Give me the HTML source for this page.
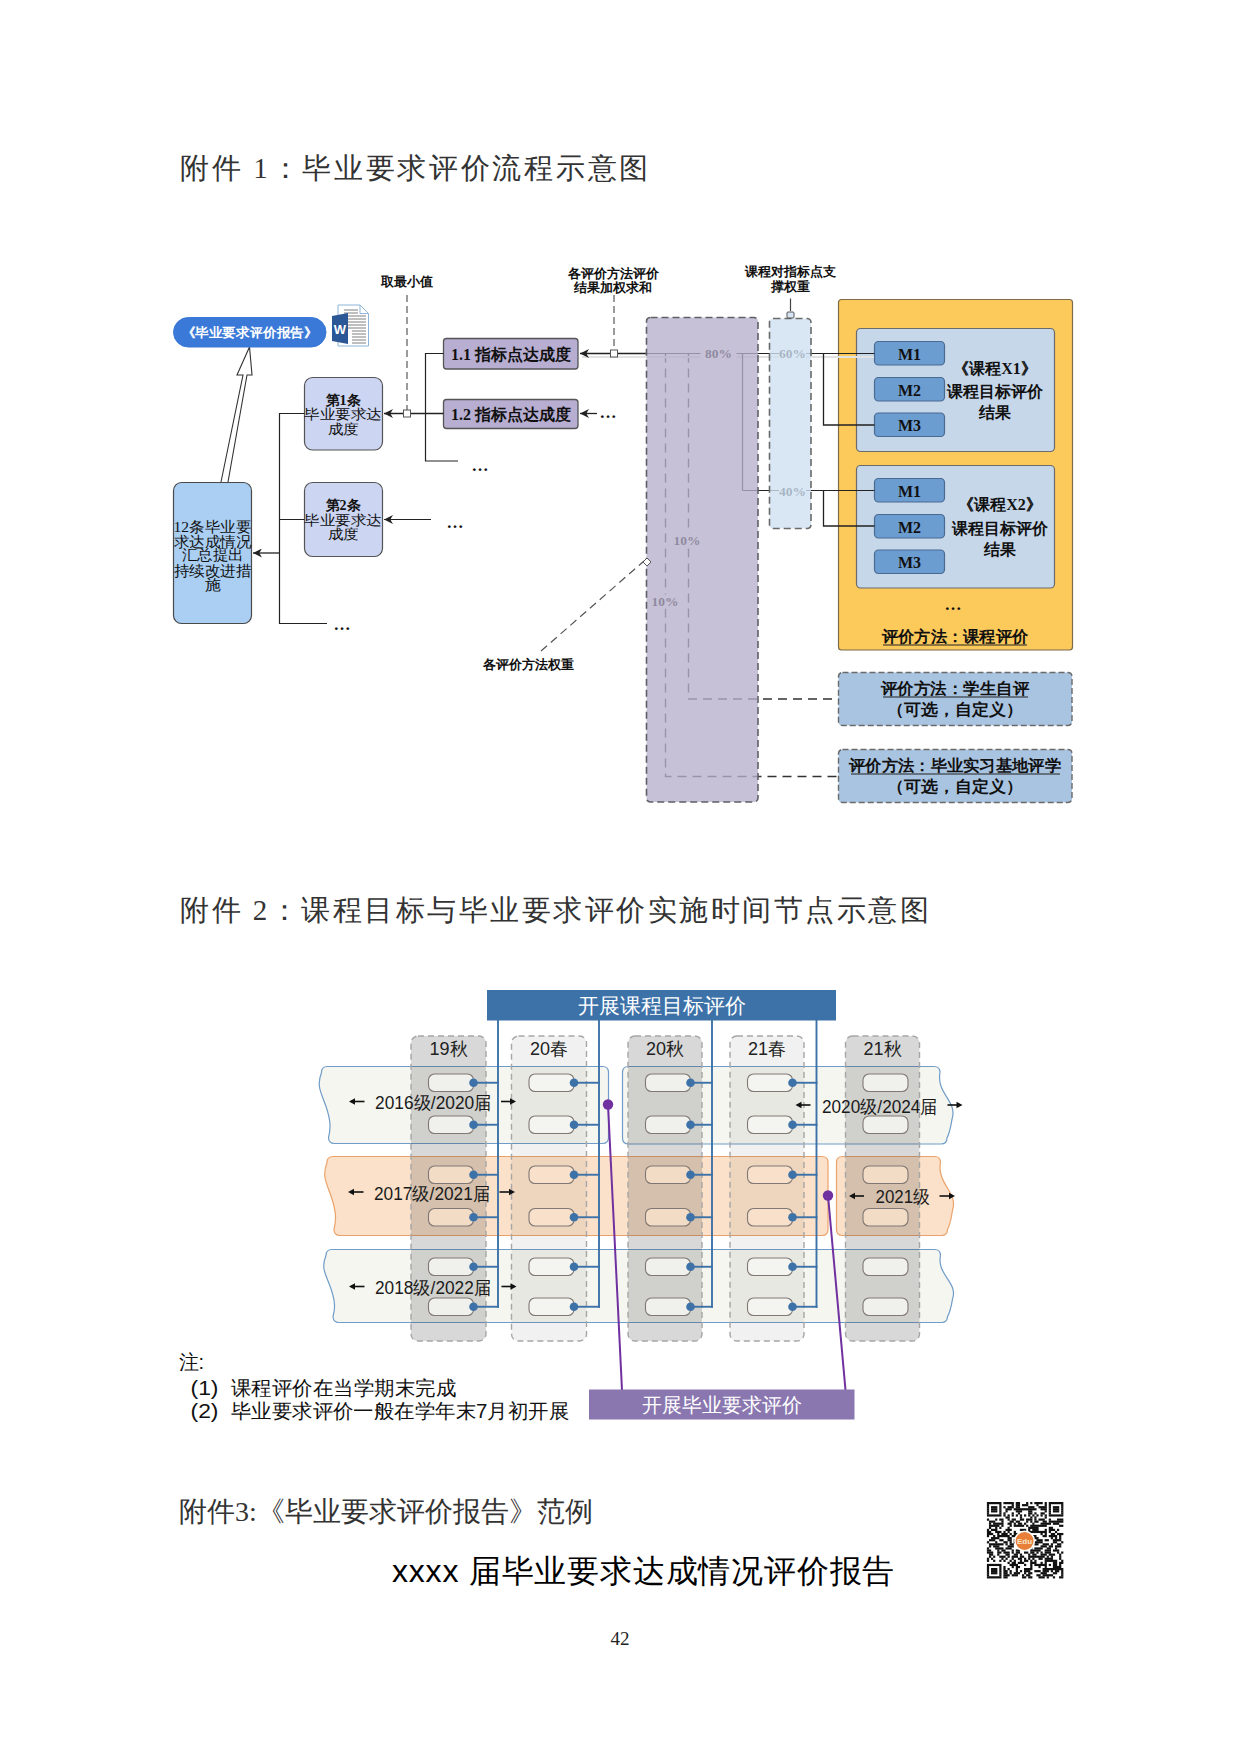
<!DOCTYPE html>
<html><head><meta charset="utf-8">
<style>
html,body{margin:0;padding:0;background:#fff;}
body{width:1240px;height:1753px;overflow:hidden;position:relative;font-family:"Liberation Serif",serif;}
svg{position:absolute;left:0;top:0;}
</style></head><body>
<svg width="1240" height="1753" viewBox="0 0 1240 1753" font-family="Liberation Serif, serif">
<defs>
<marker id="ah" viewBox="0 0 10 10" refX="10" refY="5" markerWidth="9" markerHeight="9" markerUnits="userSpaceOnUse" orient="auto"><path d="M0,0 L10,5 L0,10 L3,5 z" fill="#222"/></marker>
</defs>

<text x="180" y="178" font-size="29" letter-spacing="2.7" fill="#333">附件 1：毕业要求评价流程示意图</text>
<text x="180" y="920" font-size="29" letter-spacing="2.5" fill="#333">附件 2：课程目标与毕业要求评价实施时间节点示意图</text>
<text x="179" y="1521" font-size="28" fill="#333">附件3:《毕业要求评价报告》范例</text>
<text x="392" y="1582" font-size="32" letter-spacing="0.8" font-family="Liberation Sans, sans-serif" fill="#000">xxxx 届毕业要求达成情况评价报告</text>
<text x="620" y="1645" font-size="19" text-anchor="middle" fill="#222">42</text>
<rect x="838.5" y="299.5" width="234" height="350.5" rx="3" fill="#fcc95b" stroke="#7d6b4a" stroke-width="1.2" />
<rect x="856.5" y="328.5" width="198" height="123" rx="4" fill="#c6d7e9" stroke="#6b6b6b" stroke-width="1.2" />
<rect x="856.5" y="465.5" width="198" height="122.5" rx="4" fill="#c6d7e9" stroke="#6b6b6b" stroke-width="1.2" />
<rect x="874.5" y="341.5" width="70" height="23.5" rx="4" fill="#6c9dd1" stroke="#4a6a92" stroke-width="1.2" />
<rect x="874.5" y="377.5" width="70" height="23.5" rx="4" fill="#6c9dd1" stroke="#4a6a92" stroke-width="1.2" />
<rect x="874.5" y="413" width="70" height="23.5" rx="4" fill="#6c9dd1" stroke="#4a6a92" stroke-width="1.2" />
<rect x="874.5" y="478.5" width="70" height="23.5" rx="4" fill="#6c9dd1" stroke="#4a6a92" stroke-width="1.2" />
<rect x="874.5" y="514.5" width="70" height="23.5" rx="4" fill="#6c9dd1" stroke="#4a6a92" stroke-width="1.2" />
<rect x="874.5" y="550" width="70" height="23.5" rx="4" fill="#6c9dd1" stroke="#4a6a92" stroke-width="1.2" />
<text x="909.5" y="354.0" font-size="16" fill="#111" text-anchor="middle" dominant-baseline="central" font-weight="bold">M1</text>
<text x="909.5" y="390.0" font-size="16" fill="#111" text-anchor="middle" dominant-baseline="central" font-weight="bold">M2</text>
<text x="909.5" y="425.5" font-size="16" fill="#111" text-anchor="middle" dominant-baseline="central" font-weight="bold">M3</text>
<text x="909.5" y="491.0" font-size="16" fill="#111" text-anchor="middle" dominant-baseline="central" font-weight="bold">M1</text>
<text x="909.5" y="527.0" font-size="16" fill="#111" text-anchor="middle" dominant-baseline="central" font-weight="bold">M2</text>
<text x="909.5" y="562.5" font-size="16" fill="#111" text-anchor="middle" dominant-baseline="central" font-weight="bold">M3</text>
<text x="995" y="368" font-size="16" fill="#111" text-anchor="middle" dominant-baseline="central" font-weight="bold">《课程X1》</text>
<text x="995" y="391" font-size="16" fill="#111" text-anchor="middle" dominant-baseline="central" font-weight="bold">课程目标评价</text>
<text x="995" y="412" font-size="16" fill="#111" text-anchor="middle" dominant-baseline="central" font-weight="bold">结果</text>
<text x="1000" y="504" font-size="16" fill="#111" text-anchor="middle" dominant-baseline="central" font-weight="bold">《课程X2》</text>
<text x="1000" y="528" font-size="16" fill="#111" text-anchor="middle" dominant-baseline="central" font-weight="bold">课程目标评价</text>
<text x="1000" y="549" font-size="16" fill="#111" text-anchor="middle" dominant-baseline="central" font-weight="bold">结果</text>
<text x="953" y="604" font-size="17" fill="#111" text-anchor="middle" dominant-baseline="central" font-weight="bold">…</text>
<text x="955" y="636" font-size="16" fill="#111" text-anchor="middle" dominant-baseline="central" font-weight="bold" textLength="146" lengthAdjust="spacingAndGlyphs">评价方法：课程评价</text>
<line x1="883" y1="645" x2="1027" y2="645" stroke="#222" stroke-width="1.2" />
<rect x="838.5" y="672.5" width="233.5" height="53" rx="4" fill="#a8c4e1" stroke="#6a6a6a" stroke-width="1.4" stroke-dasharray="6,3"/>
<rect x="838.5" y="749.5" width="233.5" height="53" rx="4" fill="#a8c4e1" stroke="#6a6a6a" stroke-width="1.4" stroke-dasharray="6,3"/>
<text x="955" y="688" font-size="16" fill="#111" text-anchor="middle" dominant-baseline="central" font-weight="bold" textLength="148" lengthAdjust="spacingAndGlyphs">评价方法：学生自评</text>
<line x1="883" y1="697" x2="1028" y2="697" stroke="#222" stroke-width="1.2" />
<text x="955" y="709" font-size="16" fill="#111" text-anchor="middle" dominant-baseline="central" font-weight="bold" textLength="136" lengthAdjust="spacingAndGlyphs">（可选，自定义）</text>
<text x="955" y="765" font-size="16" fill="#111" text-anchor="middle" dominant-baseline="central" font-weight="bold" textLength="212" lengthAdjust="spacingAndGlyphs">评价方法：毕业实习基地评学</text>
<line x1="851" y1="774" x2="1060" y2="774" stroke="#222" stroke-width="1.2" />
<text x="955" y="786" font-size="16" fill="#111" text-anchor="middle" dominant-baseline="central" font-weight="bold" textLength="136" lengthAdjust="spacingAndGlyphs">（可选，自定义）</text>
<path d="M688.5,353.5 V699 H838.5" fill="none" stroke="#333" stroke-width="1.4" stroke-dasharray="9,6"/>
<path d="M665.5,353.5 V776.5 H838.5" fill="none" stroke="#333" stroke-width="1.4" stroke-dasharray="9,6"/>
<line x1="582" y1="357" x2="874" y2="357" stroke="#e2e2e2" stroke-width="2.2" />
<line x1="646" y1="353.5" x2="580" y2="353.5" stroke="#222" stroke-width="1.3" marker-end="url(#ah)"/>
<line x1="646" y1="353.5" x2="874.5" y2="353.5" stroke="#222" stroke-width="1.2" />
<line x1="742.5" y1="353.5" x2="742.5" y2="490.5" stroke="#222" stroke-width="1.2" />
<line x1="742.5" y1="490.5" x2="874.5" y2="490.5" stroke="#222" stroke-width="1.2" />
<path d="M823.5,353.5 V425 H874.5" fill="none" stroke="#222" stroke-width="1.3"/>
<path d="M823.5,490.5 V526 H874.5" fill="none" stroke="#222" stroke-width="1.3"/>
<rect x="700.5" y="346.5" width="36" height="14" fill="#fff"/>
<text x="718.5" y="353.5" font-size="13" fill="#000" text-anchor="middle" dominant-baseline="central" font-weight="bold" textLength="27" lengthAdjust="spacingAndGlyphs">80%</text>
<rect x="779.0" y="346.5" width="27" height="14" fill="#fff"/>
<text x="792.5" y="353.5" font-size="13" fill="#000" text-anchor="middle" dominant-baseline="central" font-weight="bold" textLength="27" lengthAdjust="spacingAndGlyphs">60%</text>
<rect x="779.0" y="484" width="27" height="14" fill="#fff"/>
<text x="792.5" y="491" font-size="13" fill="#000" text-anchor="middle" dominant-baseline="central" font-weight="bold" textLength="27" lengthAdjust="spacingAndGlyphs">40%</text>
<rect x="671.0" y="533.5" width="32" height="14" fill="#fff"/>
<text x="687" y="540.5" font-size="13" fill="#000" text-anchor="middle" dominant-baseline="central" font-weight="bold" textLength="27" lengthAdjust="spacingAndGlyphs">10%</text>
<rect x="649.0" y="594.5" width="32" height="14" fill="#fff"/>
<text x="665" y="601.5" font-size="13" fill="#000" text-anchor="middle" dominant-baseline="central" font-weight="bold" textLength="27" lengthAdjust="spacingAndGlyphs">10%</text>
<rect x="646.5" y="317.5" width="111.5" height="484.5" rx="4" fill="rgba(182,175,203,0.78)" stroke="none" stroke-width="0" />
<rect x="769.5" y="318.5" width="41.5" height="210" rx="4" fill="rgba(207,225,243,0.8)" stroke="none" stroke-width="0" />
<rect x="646.5" y="317.5" width="111.5" height="484.5" rx="4" fill="none" stroke="#5f5f66" stroke-width="1.6" stroke-dasharray="7,4"/>
<rect x="769.5" y="318.5" width="41.5" height="210" rx="4" fill="none" stroke="#6a6a6a" stroke-width="1.6" stroke-dasharray="7,4"/>
<text x="790" y="271" font-size="13" fill="#111" text-anchor="middle" dominant-baseline="central" font-weight="bold">课程对指标点支</text>
<text x="790" y="286" font-size="13" fill="#111" text-anchor="middle" dominant-baseline="central" font-weight="bold">撑权重</text>
<line x1="790.5" y1="298.5" x2="790.5" y2="311" stroke="#444" stroke-width="1.2" />
<rect x="787" y="312" width="7" height="6" rx="1" fill="#d6e6f6" stroke="#555" stroke-width="1" />
<text x="613" y="273" font-size="13" fill="#111" text-anchor="middle" dominant-baseline="central" font-weight="bold">各评价方法评价</text>
<text x="613" y="287" font-size="13" fill="#111" text-anchor="middle" dominant-baseline="central" font-weight="bold">结果加权求和</text>
<line x1="614" y1="295" x2="614" y2="350" stroke="#666" stroke-width="1.3" stroke-dasharray="7,4"/>
<rect x="610.5" y="350" width="7" height="7" rx="0" fill="#fff" stroke="#555" stroke-width="1" />
<rect x="443.5" y="338.5" width="134.5" height="30.5" rx="3" fill="#b8aed2" stroke="#555" stroke-width="1.3" />
<rect x="443.5" y="399.5" width="134.5" height="29" rx="3" fill="#b8aed2" stroke="#555" stroke-width="1.3" />
<text x="511" y="354" font-size="16" fill="#111" text-anchor="middle" dominant-baseline="central" font-weight="bold">1.1 指标点达成度</text>
<text x="511" y="414.5" font-size="16" fill="#111" text-anchor="middle" dominant-baseline="central" font-weight="bold">1.2 指标点达成度</text>
<line x1="597" y1="413.5" x2="580" y2="413.5" stroke="#222" stroke-width="1.3" marker-end="url(#ah)"/>
<text x="608" y="412" font-size="17" fill="#111" text-anchor="middle" dominant-baseline="central" font-weight="bold">…</text>
<path d="M443.5,353.5 H425.5 V461 H458" fill="none" stroke="#222" stroke-width="1.2"/>
<text x="480" y="465" font-size="17" fill="#111" text-anchor="middle" dominant-baseline="central" font-weight="bold">…</text>
<text x="407" y="281" font-size="13" fill="#111" text-anchor="middle" dominant-baseline="central" font-weight="bold">取最小值</text>
<line x1="407" y1="295" x2="407" y2="410" stroke="#666" stroke-width="1.3" stroke-dasharray="7,4"/>
<line x1="443.5" y1="413.5" x2="384" y2="413.5" stroke="#222" stroke-width="1.3" marker-end="url(#ah)"/>
<rect x="403.5" y="410" width="7" height="7" rx="0" fill="#fff" stroke="#555" stroke-width="1" />
<rect x="304.5" y="377.5" width="78" height="72.5" rx="8" fill="#ccd5f1" stroke="#555" stroke-width="1.2" />
<rect x="304.5" y="482.5" width="78" height="74" rx="8" fill="#ccd5f1" stroke="#555" stroke-width="1.2" />
<text x="343" y="400" font-size="14" fill="#111" text-anchor="middle" dominant-baseline="central" font-weight="bold">第1条</text>
<text x="343" y="414.5" font-size="14" fill="#111" text-anchor="middle" dominant-baseline="central"  textLength="78" lengthAdjust="spacingAndGlyphs">毕业要求达</text>
<text x="343" y="429.5" font-size="14" fill="#111" text-anchor="middle" dominant-baseline="central"  textLength="31" lengthAdjust="spacingAndGlyphs">成度</text>
<text x="343" y="505.5" font-size="14" fill="#111" text-anchor="middle" dominant-baseline="central" font-weight="bold">第2条</text>
<text x="343" y="520" font-size="14" fill="#111" text-anchor="middle" dominant-baseline="central"  textLength="78" lengthAdjust="spacingAndGlyphs">毕业要求达</text>
<text x="343" y="534.5" font-size="14" fill="#111" text-anchor="middle" dominant-baseline="central"  textLength="31" lengthAdjust="spacingAndGlyphs">成度</text>
<line x1="431" y1="519.5" x2="384" y2="519.5" stroke="#222" stroke-width="1.2" marker-end="url(#ah)"/>
<text x="455" y="522" font-size="17" fill="#111" text-anchor="middle" dominant-baseline="central" font-weight="bold">…</text>
<path d="M304.5,413.5 H279.5 V623.5 H327 M279.5,519.5 H304.5" fill="none" stroke="#222" stroke-width="1.2"/>
<line x1="279.5" y1="553" x2="253" y2="553" stroke="#222" stroke-width="1.3" marker-end="url(#ah)"/>
<text x="342" y="624" font-size="17" fill="#111" text-anchor="middle" dominant-baseline="central" font-weight="bold">…</text>
<rect x="173.5" y="482.5" width="78" height="141" rx="8" fill="#aacff3" stroke="#4a4a4a" stroke-width="1.2" />
<text x="212.5" y="527" font-size="15" fill="#111" text-anchor="middle" dominant-baseline="central"  textLength="78" lengthAdjust="spacingAndGlyphs">12条毕业要</text>
<text x="212.5" y="541.5" font-size="15" fill="#111" text-anchor="middle" dominant-baseline="central"  textLength="78" lengthAdjust="spacingAndGlyphs">求达成情况</text>
<text x="212.5" y="555" font-size="15" fill="#111" text-anchor="middle" dominant-baseline="central"  textLength="62" lengthAdjust="spacingAndGlyphs">汇总提出</text>
<text x="212.5" y="570.5" font-size="15" fill="#111" text-anchor="middle" dominant-baseline="central"  textLength="78" lengthAdjust="spacingAndGlyphs">持续改进措</text>
<text x="212.5" y="585" font-size="15" fill="#111" text-anchor="middle" dominant-baseline="central"  textLength="16" lengthAdjust="spacingAndGlyphs">施</text>
<path d="M221,482 L243,375 L237,375 L249.5,347 L252,375 L247,375 L228,482" fill="#fff" stroke="#333" stroke-width="1.1"/>
<rect x="173.5" y="317.5" width="152.5" height="29.5" rx="14.75" fill="#3a79d8" stroke="#3a79d8" stroke-width="1" />
<text x="249.5" y="332.5" font-size="13" fill="#fff" text-anchor="middle" dominant-baseline="central" font-weight="bold" textLength="136" lengthAdjust="spacingAndGlyphs">《毕业要求评价报告》</text>
<path d="M338,305 H360 L368.5,313.5 V346 H338 Z" fill="#fff" stroke="#8fb5d9" stroke-width="1"/>
<path d="M360,305 V313.5 H368.5" fill="none" stroke="#8fb5d9" stroke-width="1"/>
<line x1="344" y1="310" x2="358" y2="310" stroke="#7f7f7f" stroke-width="1"/>
<line x1="344" y1="313" x2="358" y2="313" stroke="#7f7f7f" stroke-width="1"/>
<line x1="344" y1="316" x2="366" y2="316" stroke="#7f7f7f" stroke-width="1"/>
<line x1="344" y1="319" x2="366" y2="319" stroke="#7f7f7f" stroke-width="1"/>
<line x1="344" y1="322" x2="366" y2="322" stroke="#7f7f7f" stroke-width="1"/>
<line x1="344" y1="325" x2="366" y2="325" stroke="#7f7f7f" stroke-width="1"/>
<line x1="344" y1="328" x2="366" y2="328" stroke="#7f7f7f" stroke-width="1"/>
<line x1="352" y1="331" x2="366" y2="331" stroke="#7f7f7f" stroke-width="1"/>
<line x1="352" y1="334" x2="366" y2="334" stroke="#7f7f7f" stroke-width="1"/>
<line x1="352" y1="337" x2="366" y2="337" stroke="#7f7f7f" stroke-width="1"/>
<line x1="352" y1="340" x2="366" y2="340" stroke="#7f7f7f" stroke-width="1"/>
<line x1="352" y1="343" x2="366" y2="343" stroke="#7f7f7f" stroke-width="1"/>
<path d="M332,316 L348,313 V344 L332,341 Z" fill="#2b5797"/>
<text x="340" y="329" font-size="13" fill="#fff" text-anchor="middle" dominant-baseline="central" font-family="Liberation Sans, sans-serif" font-weight="bold">W</text>
<line x1="541" y1="651" x2="644" y2="561" stroke="#555" stroke-width="1.2" stroke-dasharray="8,5"/>
<path d="M647,558 L651,562 L647,566 L643,562 Z" fill="#fff" stroke="#555" stroke-width="1"/>
<text x="528" y="664" font-size="13" fill="#111" text-anchor="middle" dominant-baseline="central" font-weight="bold">各评价方法权重</text>
<path d="M327.5,1066.5 H602.5 Q608.5,1066.5 608.5,1072.5 V1137.5 Q608.5,1143.5 602.5,1143.5 H334.5 Q328.5,1143.5 328.5,1137.5 C330.5,1129.64 331.5,1121.94 325.5,1105.0 C320.5,1091.14 316.5,1085.75 321.5,1072.5 Q321.5,1066.5 327.5,1066.5 Z" fill="#f6f6f0" stroke="#6f9cc8" stroke-width="1.2"/>
<path d="M628.5,1066.5 H934 Q940,1066.5 940,1072.5 C936,1093.625 958,1101.375 952,1119.2 C950,1132.375 947,1138 947,1138 Q947,1144 941,1144 H628.5 Q622.5,1144 622.5,1138 V1072.5 Q622.5,1066.5 628.5,1066.5 Z" fill="#f6f6f0" stroke="#6f9cc8" stroke-width="1.2"/>
<path d="M333,1156.5 H822 Q828,1156.5 828,1162.5 V1229.5 Q828,1235.5 822,1235.5 H340 Q334,1235.5 334,1229.5 C336,1221.28 337,1213.38 331,1196.0 C326,1181.78 322,1176.25 327,1162.5 Q327,1156.5 333,1156.5 Z" fill="#fbe1c9" stroke="#eba26a" stroke-width="1.2"/>
<path d="M842.5,1156.5 H934.5 Q940.5,1156.5 940.5,1162.5 C936.5,1184.15 958.5,1192.05 952.5,1210.22 C950.5,1223.65 947.5,1229.5 947.5,1229.5 Q947.5,1235.5 941.5,1235.5 H842.5 Q836.5,1235.5 836.5,1229.5 V1162.5 Q836.5,1156.5 842.5,1156.5 Z" fill="#fbe1c9" stroke="#eba26a" stroke-width="1.2"/>
<path d="M332,1249.5 H934.5 Q940.5,1249.5 940.5,1255.5 C936.5,1275.05 958.5,1282.35 952.5,1299.14 C950.5,1311.55 947.5,1316.5 947.5,1316.5 Q947.5,1322.5 941.5,1322.5 H339 Q333,1322.5 333,1316.5 C335,1309.36 336,1302.06 330,1286.0 C325,1272.86 321,1267.75 326,1255.5 Q326,1249.5 332,1249.5 Z" fill="#f6f6f0" stroke="#6f9cc8" stroke-width="1.2"/>
<rect x="411" y="1036" width="75" height="305" rx="7" fill="rgba(60,60,60,0.20)" stroke="#a6a6a6" stroke-width="1.4" stroke-dasharray="6,4"/>
<text x="448.5" y="1049" font-size="18" fill="#222" text-anchor="middle" dominant-baseline="central" font-family="Liberation Sans, sans-serif">19秋</text>
<rect x="511.5" y="1036" width="75" height="305" rx="7" fill="rgba(60,60,60,0.07)" stroke="#a6a6a6" stroke-width="1.4" stroke-dasharray="6,4"/>
<text x="549.0" y="1049" font-size="18" fill="#222" text-anchor="middle" dominant-baseline="central" font-family="Liberation Sans, sans-serif">20春</text>
<rect x="628" y="1036" width="74" height="305" rx="7" fill="rgba(60,60,60,0.20)" stroke="#a6a6a6" stroke-width="1.4" stroke-dasharray="6,4"/>
<text x="665.0" y="1049" font-size="18" fill="#222" text-anchor="middle" dominant-baseline="central" font-family="Liberation Sans, sans-serif">20秋</text>
<rect x="730" y="1036" width="74" height="305" rx="7" fill="rgba(60,60,60,0.07)" stroke="#a6a6a6" stroke-width="1.4" stroke-dasharray="6,4"/>
<text x="767.0" y="1049" font-size="18" fill="#222" text-anchor="middle" dominant-baseline="central" font-family="Liberation Sans, sans-serif">21春</text>
<rect x="845.5" y="1036" width="74" height="305" rx="7" fill="rgba(60,60,60,0.20)" stroke="#a6a6a6" stroke-width="1.4" stroke-dasharray="6,4"/>
<text x="882.5" y="1049" font-size="18" fill="#222" text-anchor="middle" dominant-baseline="central" font-family="Liberation Sans, sans-serif">21秋</text>
<rect x="487" y="990" width="349" height="30.5" fill="#3d72a8"/>
<text x="661.5" y="1005" font-size="20.5" fill="#fff" text-anchor="middle" dominant-baseline="central" font-family="Liberation Sans, sans-serif">开展课程目标评价</text>
<rect x="428.5" y="1074" width="45" height="17.5" rx="6" fill="rgba(246,246,242,0.85)" stroke="#807874" stroke-width="1.1"/>
<rect x="428.5" y="1116" width="45" height="17.5" rx="6" fill="rgba(246,246,242,0.85)" stroke="#807874" stroke-width="1.1"/>
<rect x="428.5" y="1166" width="45" height="17.5" rx="6" fill="rgba(250,226,205,0.8)" stroke="#807874" stroke-width="1.1"/>
<rect x="428.5" y="1208.5" width="45" height="17.5" rx="6" fill="rgba(250,226,205,0.8)" stroke="#807874" stroke-width="1.1"/>
<rect x="428.5" y="1258" width="45" height="17.5" rx="6" fill="rgba(246,246,242,0.85)" stroke="#807874" stroke-width="1.1"/>
<rect x="428.5" y="1298" width="45" height="17.5" rx="6" fill="rgba(246,246,242,0.85)" stroke="#807874" stroke-width="1.1"/>
<rect x="529.0" y="1074" width="45" height="17.5" rx="6" fill="rgba(246,246,242,0.85)" stroke="#807874" stroke-width="1.1"/>
<rect x="529.0" y="1116" width="45" height="17.5" rx="6" fill="rgba(246,246,242,0.85)" stroke="#807874" stroke-width="1.1"/>
<rect x="529.0" y="1166" width="45" height="17.5" rx="6" fill="rgba(250,226,205,0.8)" stroke="#807874" stroke-width="1.1"/>
<rect x="529.0" y="1208.5" width="45" height="17.5" rx="6" fill="rgba(250,226,205,0.8)" stroke="#807874" stroke-width="1.1"/>
<rect x="529.0" y="1258" width="45" height="17.5" rx="6" fill="rgba(246,246,242,0.85)" stroke="#807874" stroke-width="1.1"/>
<rect x="529.0" y="1298" width="45" height="17.5" rx="6" fill="rgba(246,246,242,0.85)" stroke="#807874" stroke-width="1.1"/>
<rect x="645.5" y="1074" width="45" height="17.5" rx="6" fill="rgba(246,246,242,0.85)" stroke="#807874" stroke-width="1.1"/>
<rect x="645.5" y="1116" width="45" height="17.5" rx="6" fill="rgba(246,246,242,0.85)" stroke="#807874" stroke-width="1.1"/>
<rect x="645.5" y="1166" width="45" height="17.5" rx="6" fill="rgba(250,226,205,0.8)" stroke="#807874" stroke-width="1.1"/>
<rect x="645.5" y="1208.5" width="45" height="17.5" rx="6" fill="rgba(250,226,205,0.8)" stroke="#807874" stroke-width="1.1"/>
<rect x="645.5" y="1258" width="45" height="17.5" rx="6" fill="rgba(246,246,242,0.85)" stroke="#807874" stroke-width="1.1"/>
<rect x="645.5" y="1298" width="45" height="17.5" rx="6" fill="rgba(246,246,242,0.85)" stroke="#807874" stroke-width="1.1"/>
<rect x="747.5" y="1074" width="45" height="17.5" rx="6" fill="rgba(246,246,242,0.85)" stroke="#807874" stroke-width="1.1"/>
<rect x="747.5" y="1116" width="45" height="17.5" rx="6" fill="rgba(246,246,242,0.85)" stroke="#807874" stroke-width="1.1"/>
<rect x="747.5" y="1166" width="45" height="17.5" rx="6" fill="rgba(250,226,205,0.8)" stroke="#807874" stroke-width="1.1"/>
<rect x="747.5" y="1208.5" width="45" height="17.5" rx="6" fill="rgba(250,226,205,0.8)" stroke="#807874" stroke-width="1.1"/>
<rect x="747.5" y="1258" width="45" height="17.5" rx="6" fill="rgba(246,246,242,0.85)" stroke="#807874" stroke-width="1.1"/>
<rect x="747.5" y="1298" width="45" height="17.5" rx="6" fill="rgba(246,246,242,0.85)" stroke="#807874" stroke-width="1.1"/>
<rect x="863.0" y="1074" width="45" height="17.5" rx="6" fill="rgba(246,246,242,0.85)" stroke="#807874" stroke-width="1.1"/>
<rect x="863.0" y="1116" width="45" height="17.5" rx="6" fill="rgba(246,246,242,0.85)" stroke="#807874" stroke-width="1.1"/>
<rect x="863.0" y="1166" width="45" height="17.5" rx="6" fill="rgba(250,226,205,0.8)" stroke="#807874" stroke-width="1.1"/>
<rect x="863.0" y="1208.5" width="45" height="17.5" rx="6" fill="rgba(250,226,205,0.8)" stroke="#807874" stroke-width="1.1"/>
<rect x="863.0" y="1258" width="45" height="17.5" rx="6" fill="rgba(246,246,242,0.85)" stroke="#807874" stroke-width="1.1"/>
<rect x="863.0" y="1298" width="45" height="17.5" rx="6" fill="rgba(246,246,242,0.85)" stroke="#807874" stroke-width="1.1"/>
<line x1="498" y1="1020" x2="498" y2="1307.75" stroke="#3d72a8" stroke-width="1.9"/>
<line x1="473.5" y1="1082.75" x2="499" y2="1082.75" stroke="#3d72a8" stroke-width="1.9"/>
<circle cx="473.5" cy="1082.75" r="4.3" fill="#3d72a8"/>
<line x1="473.5" y1="1124.75" x2="499" y2="1124.75" stroke="#3d72a8" stroke-width="1.9"/>
<circle cx="473.5" cy="1124.75" r="4.3" fill="#3d72a8"/>
<line x1="473.5" y1="1174.75" x2="499" y2="1174.75" stroke="#3d72a8" stroke-width="1.9"/>
<circle cx="473.5" cy="1174.75" r="4.3" fill="#3d72a8"/>
<line x1="473.5" y1="1217.25" x2="499" y2="1217.25" stroke="#3d72a8" stroke-width="1.9"/>
<circle cx="473.5" cy="1217.25" r="4.3" fill="#3d72a8"/>
<line x1="473.5" y1="1266.75" x2="499" y2="1266.75" stroke="#3d72a8" stroke-width="1.9"/>
<circle cx="473.5" cy="1266.75" r="4.3" fill="#3d72a8"/>
<line x1="473.5" y1="1306.75" x2="499" y2="1306.75" stroke="#3d72a8" stroke-width="1.9"/>
<circle cx="473.5" cy="1306.75" r="4.3" fill="#3d72a8"/>
<line x1="599" y1="1020" x2="599" y2="1307.75" stroke="#3d72a8" stroke-width="1.9"/>
<line x1="574.0" y1="1082.75" x2="600" y2="1082.75" stroke="#3d72a8" stroke-width="1.9"/>
<circle cx="574.0" cy="1082.75" r="4.3" fill="#3d72a8"/>
<line x1="574.0" y1="1124.75" x2="600" y2="1124.75" stroke="#3d72a8" stroke-width="1.9"/>
<circle cx="574.0" cy="1124.75" r="4.3" fill="#3d72a8"/>
<line x1="574.0" y1="1174.75" x2="600" y2="1174.75" stroke="#3d72a8" stroke-width="1.9"/>
<circle cx="574.0" cy="1174.75" r="4.3" fill="#3d72a8"/>
<line x1="574.0" y1="1217.25" x2="600" y2="1217.25" stroke="#3d72a8" stroke-width="1.9"/>
<circle cx="574.0" cy="1217.25" r="4.3" fill="#3d72a8"/>
<line x1="574.0" y1="1266.75" x2="600" y2="1266.75" stroke="#3d72a8" stroke-width="1.9"/>
<circle cx="574.0" cy="1266.75" r="4.3" fill="#3d72a8"/>
<line x1="574.0" y1="1306.75" x2="600" y2="1306.75" stroke="#3d72a8" stroke-width="1.9"/>
<circle cx="574.0" cy="1306.75" r="4.3" fill="#3d72a8"/>
<line x1="712" y1="1020" x2="712" y2="1307.75" stroke="#3d72a8" stroke-width="1.9"/>
<line x1="690.5" y1="1082.75" x2="713" y2="1082.75" stroke="#3d72a8" stroke-width="1.9"/>
<circle cx="690.5" cy="1082.75" r="4.3" fill="#3d72a8"/>
<line x1="690.5" y1="1124.75" x2="713" y2="1124.75" stroke="#3d72a8" stroke-width="1.9"/>
<circle cx="690.5" cy="1124.75" r="4.3" fill="#3d72a8"/>
<line x1="690.5" y1="1174.75" x2="713" y2="1174.75" stroke="#3d72a8" stroke-width="1.9"/>
<circle cx="690.5" cy="1174.75" r="4.3" fill="#3d72a8"/>
<line x1="690.5" y1="1217.25" x2="713" y2="1217.25" stroke="#3d72a8" stroke-width="1.9"/>
<circle cx="690.5" cy="1217.25" r="4.3" fill="#3d72a8"/>
<line x1="690.5" y1="1266.75" x2="713" y2="1266.75" stroke="#3d72a8" stroke-width="1.9"/>
<circle cx="690.5" cy="1266.75" r="4.3" fill="#3d72a8"/>
<line x1="690.5" y1="1306.75" x2="713" y2="1306.75" stroke="#3d72a8" stroke-width="1.9"/>
<circle cx="690.5" cy="1306.75" r="4.3" fill="#3d72a8"/>
<line x1="816.5" y1="1020" x2="816.5" y2="1307.75" stroke="#3d72a8" stroke-width="1.9"/>
<line x1="792.5" y1="1082.75" x2="817.5" y2="1082.75" stroke="#3d72a8" stroke-width="1.9"/>
<circle cx="792.5" cy="1082.75" r="4.3" fill="#3d72a8"/>
<line x1="792.5" y1="1124.75" x2="817.5" y2="1124.75" stroke="#3d72a8" stroke-width="1.9"/>
<circle cx="792.5" cy="1124.75" r="4.3" fill="#3d72a8"/>
<line x1="792.5" y1="1174.75" x2="817.5" y2="1174.75" stroke="#3d72a8" stroke-width="1.9"/>
<circle cx="792.5" cy="1174.75" r="4.3" fill="#3d72a8"/>
<line x1="792.5" y1="1217.25" x2="817.5" y2="1217.25" stroke="#3d72a8" stroke-width="1.9"/>
<circle cx="792.5" cy="1217.25" r="4.3" fill="#3d72a8"/>
<line x1="792.5" y1="1266.75" x2="817.5" y2="1266.75" stroke="#3d72a8" stroke-width="1.9"/>
<circle cx="792.5" cy="1266.75" r="4.3" fill="#3d72a8"/>
<line x1="792.5" y1="1306.75" x2="817.5" y2="1306.75" stroke="#3d72a8" stroke-width="1.9"/>
<circle cx="792.5" cy="1306.75" r="4.3" fill="#3d72a8"/>
<line x1="364.5" y1="1101.5" x2="351" y2="1101.5" stroke="#111" stroke-width="1.6"/>
<path d="M349,1101.5 L355,1098.3 L355,1104.7 Z" fill="#111"/>
<line x1="501" y1="1101.5" x2="514" y2="1101.5" stroke="#111" stroke-width="1.6"/>
<path d="M516,1101.5 L510,1098.3 L510,1104.7 Z" fill="#111"/>
<text x="375" y="1103" font-size="18" fill="#1a1a1a" dominant-baseline="central" font-family="Liberation Sans, sans-serif" textLength="116.5" lengthAdjust="spacingAndGlyphs">2016级/2020届</text>
<line x1="810.5" y1="1105" x2="797.5" y2="1105" stroke="#111" stroke-width="1.6"/>
<path d="M795.5,1105 L801.5,1101.8 L801.5,1108.2 Z" fill="#111"/>
<line x1="947.5" y1="1105" x2="960.5" y2="1105" stroke="#111" stroke-width="1.6"/>
<path d="M962.5,1105 L956.5,1101.8 L956.5,1108.2 Z" fill="#111"/>
<text x="822" y="1107" font-size="18" fill="#1a1a1a" dominant-baseline="central" font-family="Liberation Sans, sans-serif" textLength="115.5" lengthAdjust="spacingAndGlyphs">2020级/2024届</text>
<line x1="363.5" y1="1192" x2="350" y2="1192" stroke="#111" stroke-width="1.6"/>
<path d="M348,1192 L354,1188.8 L354,1195.2 Z" fill="#111"/>
<line x1="499.5" y1="1192" x2="513" y2="1192" stroke="#111" stroke-width="1.6"/>
<path d="M515,1192 L509,1188.8 L509,1195.2 Z" fill="#111"/>
<text x="374" y="1193.5" font-size="18" fill="#1a1a1a" dominant-baseline="central" font-family="Liberation Sans, sans-serif" textLength="116" lengthAdjust="spacingAndGlyphs">2017级/2021届</text>
<line x1="864" y1="1196" x2="851" y2="1196" stroke="#111" stroke-width="1.6"/>
<path d="M849,1196 L855,1192.8 L855,1199.2 Z" fill="#111"/>
<line x1="939.5" y1="1196" x2="953" y2="1196" stroke="#111" stroke-width="1.6"/>
<path d="M955,1196 L949,1192.8 L949,1199.2 Z" fill="#111"/>
<text x="875.5" y="1197" font-size="18" fill="#1a1a1a" dominant-baseline="central" font-family="Liberation Sans, sans-serif" textLength="54.5" lengthAdjust="spacingAndGlyphs">2021级</text>
<line x1="364.5" y1="1286.5" x2="351" y2="1286.5" stroke="#111" stroke-width="1.6"/>
<path d="M349,1286.5 L355,1283.3 L355,1289.7 Z" fill="#111"/>
<line x1="501.5" y1="1286.5" x2="514.5" y2="1286.5" stroke="#111" stroke-width="1.6"/>
<path d="M516.5,1286.5 L510.5,1283.3 L510.5,1289.7 Z" fill="#111"/>
<text x="375" y="1288" font-size="18" fill="#1a1a1a" dominant-baseline="central" font-family="Liberation Sans, sans-serif" textLength="116" lengthAdjust="spacingAndGlyphs">2018级/2022届</text>
<line x1="608" y1="1104.5" x2="622" y2="1390" stroke="#7030a0" stroke-width="2"/>
<circle cx="608" cy="1104.5" r="5.2" fill="#7030a0"/>
<line x1="828" y1="1195.5" x2="845.5" y2="1390" stroke="#7030a0" stroke-width="2"/>
<circle cx="828" cy="1195.5" r="5.2" fill="#7030a0"/>
<rect x="589" y="1389.5" width="265.5" height="30" fill="#8a77b0"/>
<text x="721.5" y="1404.5" font-size="19.5" fill="#fff" text-anchor="middle" dominant-baseline="central" font-family="Liberation Sans, sans-serif">开展毕业要求评价</text>
<text x="178.5" y="1362" font-size="20" fill="#111" dominant-baseline="central" font-family="Liberation Sans, sans-serif">注:</text>
<text x="190.5" y="1387" font-size="21" fill="#111" dominant-baseline="central" font-family="Liberation Sans, sans-serif" textLength="28" lengthAdjust="spacingAndGlyphs">(1)</text>
<text x="231" y="1387.5" font-size="20" fill="#111" dominant-baseline="central" font-family="Liberation Sans, sans-serif" textLength="225" lengthAdjust="spacingAndGlyphs">课程评价在当学期末完成</text>
<text x="190.5" y="1410" font-size="21" fill="#111" dominant-baseline="central" font-family="Liberation Sans, sans-serif" textLength="28" lengthAdjust="spacingAndGlyphs">(2)</text>
<text x="231" y="1410.5" font-size="20" fill="#111" dominant-baseline="central" font-family="Liberation Sans, sans-serif" textLength="338" lengthAdjust="spacingAndGlyphs">毕业要求评价一般在学年末7月初开展</text>
<g fill="#111">
<rect x="986.90" y="1502.00" width="14.59" height="2.21"/>
<rect x="1003.40" y="1502.00" width="10.46" height="2.21"/>
<rect x="1015.77" y="1502.00" width="4.27" height="2.21"/>
<rect x="1026.08" y="1502.00" width="2.21" height="2.21"/>
<rect x="1030.21" y="1502.00" width="2.21" height="2.21"/>
<rect x="1034.33" y="1502.00" width="8.40" height="2.21"/>
<rect x="1044.64" y="1502.00" width="2.21" height="2.21"/>
<rect x="1048.76" y="1502.00" width="14.59" height="2.21"/>
<rect x="986.90" y="1504.06" width="2.21" height="2.21"/>
<rect x="999.27" y="1504.06" width="2.21" height="2.21"/>
<rect x="1011.65" y="1504.06" width="2.21" height="2.21"/>
<rect x="1015.77" y="1504.06" width="4.27" height="2.21"/>
<rect x="1021.96" y="1504.06" width="6.34" height="2.21"/>
<rect x="1036.39" y="1504.06" width="2.21" height="2.21"/>
<rect x="1044.64" y="1504.06" width="2.21" height="2.21"/>
<rect x="1048.76" y="1504.06" width="2.21" height="2.21"/>
<rect x="1061.14" y="1504.06" width="2.21" height="2.21"/>
<rect x="986.90" y="1506.12" width="2.21" height="2.21"/>
<rect x="991.02" y="1506.12" width="6.34" height="2.21"/>
<rect x="999.27" y="1506.12" width="2.21" height="2.21"/>
<rect x="1003.40" y="1506.12" width="2.21" height="2.21"/>
<rect x="1007.52" y="1506.12" width="6.34" height="2.21"/>
<rect x="1015.77" y="1506.12" width="4.27" height="2.21"/>
<rect x="1028.14" y="1506.12" width="6.34" height="2.21"/>
<rect x="1038.45" y="1506.12" width="8.40" height="2.21"/>
<rect x="1048.76" y="1506.12" width="2.21" height="2.21"/>
<rect x="1052.89" y="1506.12" width="6.34" height="2.21"/>
<rect x="1061.14" y="1506.12" width="2.21" height="2.21"/>
<rect x="986.90" y="1508.19" width="2.21" height="2.21"/>
<rect x="991.02" y="1508.19" width="6.34" height="2.21"/>
<rect x="999.27" y="1508.19" width="2.21" height="2.21"/>
<rect x="1005.46" y="1508.19" width="6.34" height="2.21"/>
<rect x="1013.71" y="1508.19" width="22.83" height="2.21"/>
<rect x="1040.52" y="1508.19" width="6.34" height="2.21"/>
<rect x="1048.76" y="1508.19" width="2.21" height="2.21"/>
<rect x="1052.89" y="1508.19" width="6.34" height="2.21"/>
<rect x="1061.14" y="1508.19" width="2.21" height="2.21"/>
<rect x="986.90" y="1510.25" width="2.21" height="2.21"/>
<rect x="991.02" y="1510.25" width="6.34" height="2.21"/>
<rect x="999.27" y="1510.25" width="2.21" height="2.21"/>
<rect x="1005.46" y="1510.25" width="2.21" height="2.21"/>
<rect x="1015.77" y="1510.25" width="6.34" height="2.21"/>
<rect x="1028.14" y="1510.25" width="4.27" height="2.21"/>
<rect x="1044.64" y="1510.25" width="2.21" height="2.21"/>
<rect x="1048.76" y="1510.25" width="2.21" height="2.21"/>
<rect x="1052.89" y="1510.25" width="6.34" height="2.21"/>
<rect x="1061.14" y="1510.25" width="2.21" height="2.21"/>
<rect x="986.90" y="1512.31" width="2.21" height="2.21"/>
<rect x="999.27" y="1512.31" width="2.21" height="2.21"/>
<rect x="1003.40" y="1512.31" width="2.21" height="2.21"/>
<rect x="1011.65" y="1512.31" width="2.21" height="2.21"/>
<rect x="1017.83" y="1512.31" width="2.21" height="2.21"/>
<rect x="1028.14" y="1512.31" width="4.27" height="2.21"/>
<rect x="1034.33" y="1512.31" width="2.21" height="2.21"/>
<rect x="1040.52" y="1512.31" width="4.27" height="2.21"/>
<rect x="1048.76" y="1512.31" width="2.21" height="2.21"/>
<rect x="1061.14" y="1512.31" width="2.21" height="2.21"/>
<rect x="986.90" y="1514.37" width="14.59" height="2.21"/>
<rect x="1003.40" y="1514.37" width="2.21" height="2.21"/>
<rect x="1007.52" y="1514.37" width="2.21" height="2.21"/>
<rect x="1011.65" y="1514.37" width="2.21" height="2.21"/>
<rect x="1015.77" y="1514.37" width="2.21" height="2.21"/>
<rect x="1019.89" y="1514.37" width="2.21" height="2.21"/>
<rect x="1024.02" y="1514.37" width="2.21" height="2.21"/>
<rect x="1028.14" y="1514.37" width="2.21" height="2.21"/>
<rect x="1032.27" y="1514.37" width="2.21" height="2.21"/>
<rect x="1036.39" y="1514.37" width="2.21" height="2.21"/>
<rect x="1040.52" y="1514.37" width="2.21" height="2.21"/>
<rect x="1044.64" y="1514.37" width="2.21" height="2.21"/>
<rect x="1048.76" y="1514.37" width="14.59" height="2.21"/>
<rect x="1005.46" y="1516.44" width="4.27" height="2.21"/>
<rect x="1019.89" y="1516.44" width="2.21" height="2.21"/>
<rect x="1030.21" y="1516.44" width="2.21" height="2.21"/>
<rect x="1034.33" y="1516.44" width="2.21" height="2.21"/>
<rect x="1044.64" y="1516.44" width="2.21" height="2.21"/>
<rect x="986.90" y="1518.50" width="2.21" height="2.21"/>
<rect x="995.15" y="1518.50" width="2.21" height="2.21"/>
<rect x="999.27" y="1518.50" width="4.27" height="2.21"/>
<rect x="1007.52" y="1518.50" width="2.21" height="2.21"/>
<rect x="1011.65" y="1518.50" width="4.27" height="2.21"/>
<rect x="1019.89" y="1518.50" width="4.27" height="2.21"/>
<rect x="1026.08" y="1518.50" width="6.34" height="2.21"/>
<rect x="1034.33" y="1518.50" width="2.21" height="2.21"/>
<rect x="1038.45" y="1518.50" width="6.34" height="2.21"/>
<rect x="1048.76" y="1518.50" width="2.21" height="2.21"/>
<rect x="1057.01" y="1518.50" width="6.34" height="2.21"/>
<rect x="988.96" y="1520.56" width="6.34" height="2.21"/>
<rect x="1001.34" y="1520.56" width="2.21" height="2.21"/>
<rect x="1009.58" y="1520.56" width="4.27" height="2.21"/>
<rect x="1015.77" y="1520.56" width="4.27" height="2.21"/>
<rect x="1026.08" y="1520.56" width="2.21" height="2.21"/>
<rect x="1030.21" y="1520.56" width="2.21" height="2.21"/>
<rect x="1034.33" y="1520.56" width="4.27" height="2.21"/>
<rect x="1042.58" y="1520.56" width="4.27" height="2.21"/>
<rect x="1048.76" y="1520.56" width="14.59" height="2.21"/>
<rect x="988.96" y="1522.62" width="2.21" height="2.21"/>
<rect x="993.09" y="1522.62" width="10.46" height="2.21"/>
<rect x="1007.52" y="1522.62" width="4.27" height="2.21"/>
<rect x="1013.71" y="1522.62" width="2.21" height="2.21"/>
<rect x="1017.83" y="1522.62" width="4.27" height="2.21"/>
<rect x="1024.02" y="1522.62" width="2.21" height="2.21"/>
<rect x="1032.27" y="1522.62" width="2.21" height="2.21"/>
<rect x="1040.52" y="1522.62" width="10.46" height="2.21"/>
<rect x="1052.89" y="1522.62" width="6.34" height="2.21"/>
<rect x="988.96" y="1524.68" width="10.46" height="2.21"/>
<rect x="1001.34" y="1524.68" width="2.21" height="2.21"/>
<rect x="1009.58" y="1524.68" width="2.21" height="2.21"/>
<rect x="1013.71" y="1524.68" width="10.46" height="2.21"/>
<rect x="1026.08" y="1524.68" width="2.21" height="2.21"/>
<rect x="1030.21" y="1524.68" width="16.65" height="2.21"/>
<rect x="1059.08" y="1524.68" width="4.27" height="2.21"/>
<rect x="988.96" y="1526.75" width="2.21" height="2.21"/>
<rect x="995.15" y="1526.75" width="2.21" height="2.21"/>
<rect x="999.27" y="1526.75" width="2.21" height="2.21"/>
<rect x="1007.52" y="1526.75" width="2.21" height="2.21"/>
<rect x="1028.14" y="1526.75" width="10.46" height="2.21"/>
<rect x="1048.76" y="1526.75" width="4.27" height="2.21"/>
<rect x="986.90" y="1528.81" width="2.21" height="2.21"/>
<rect x="991.02" y="1528.81" width="6.34" height="2.21"/>
<rect x="1005.46" y="1528.81" width="6.34" height="2.21"/>
<rect x="1019.89" y="1528.81" width="6.34" height="2.21"/>
<rect x="1028.14" y="1528.81" width="2.21" height="2.21"/>
<rect x="1032.27" y="1528.81" width="6.34" height="2.21"/>
<rect x="1044.64" y="1528.81" width="2.21" height="2.21"/>
<rect x="1048.76" y="1528.81" width="6.34" height="2.21"/>
<rect x="1057.01" y="1528.81" width="2.21" height="2.21"/>
<rect x="986.90" y="1530.87" width="4.27" height="2.21"/>
<rect x="995.15" y="1530.87" width="6.34" height="2.21"/>
<rect x="1003.40" y="1530.87" width="2.21" height="2.21"/>
<rect x="1007.52" y="1530.87" width="2.21" height="2.21"/>
<rect x="1013.71" y="1530.87" width="2.21" height="2.21"/>
<rect x="1024.02" y="1530.87" width="2.21" height="2.21"/>
<rect x="1028.14" y="1530.87" width="18.71" height="2.21"/>
<rect x="1048.76" y="1530.87" width="2.21" height="2.21"/>
<rect x="1054.95" y="1530.87" width="2.21" height="2.21"/>
<rect x="986.90" y="1532.93" width="6.34" height="2.21"/>
<rect x="997.21" y="1532.93" width="2.21" height="2.21"/>
<rect x="1001.34" y="1532.93" width="6.34" height="2.21"/>
<rect x="1009.58" y="1532.93" width="2.21" height="2.21"/>
<rect x="1013.71" y="1532.93" width="4.27" height="2.21"/>
<rect x="1019.89" y="1532.93" width="4.27" height="2.21"/>
<rect x="1040.52" y="1532.93" width="2.21" height="2.21"/>
<rect x="1044.64" y="1532.93" width="2.21" height="2.21"/>
<rect x="1050.83" y="1532.93" width="4.27" height="2.21"/>
<rect x="1057.01" y="1532.93" width="6.34" height="2.21"/>
<rect x="986.90" y="1534.99" width="2.21" height="2.21"/>
<rect x="993.09" y="1534.99" width="2.21" height="2.21"/>
<rect x="997.21" y="1534.99" width="12.52" height="2.21"/>
<rect x="1011.65" y="1534.99" width="4.27" height="2.21"/>
<rect x="1019.89" y="1534.99" width="16.65" height="2.21"/>
<rect x="1042.58" y="1534.99" width="4.27" height="2.21"/>
<rect x="1048.76" y="1534.99" width="8.40" height="2.21"/>
<rect x="1059.08" y="1534.99" width="2.21" height="2.21"/>
<rect x="991.02" y="1537.06" width="8.40" height="2.21"/>
<rect x="1007.52" y="1537.06" width="4.27" height="2.21"/>
<rect x="1015.77" y="1537.06" width="2.21" height="2.21"/>
<rect x="1019.89" y="1537.06" width="4.27" height="2.21"/>
<rect x="1032.27" y="1537.06" width="6.34" height="2.21"/>
<rect x="1050.83" y="1537.06" width="2.21" height="2.21"/>
<rect x="1054.95" y="1537.06" width="2.21" height="2.21"/>
<rect x="1059.08" y="1537.06" width="2.21" height="2.21"/>
<rect x="988.96" y="1539.12" width="6.34" height="2.21"/>
<rect x="999.27" y="1539.12" width="4.27" height="2.21"/>
<rect x="1007.52" y="1539.12" width="4.27" height="2.21"/>
<rect x="1013.71" y="1539.12" width="6.34" height="2.21"/>
<rect x="1026.08" y="1539.12" width="6.34" height="2.21"/>
<rect x="1036.39" y="1539.12" width="6.34" height="2.21"/>
<rect x="1044.64" y="1539.12" width="4.27" height="2.21"/>
<rect x="1052.89" y="1539.12" width="8.40" height="2.21"/>
<rect x="986.90" y="1541.18" width="2.21" height="2.21"/>
<rect x="995.15" y="1541.18" width="2.21" height="2.21"/>
<rect x="1003.40" y="1541.18" width="4.27" height="2.21"/>
<rect x="1009.58" y="1541.18" width="2.21" height="2.21"/>
<rect x="1013.71" y="1541.18" width="8.40" height="2.21"/>
<rect x="1026.08" y="1541.18" width="6.34" height="2.21"/>
<rect x="1034.33" y="1541.18" width="8.40" height="2.21"/>
<rect x="1052.89" y="1541.18" width="4.27" height="2.21"/>
<rect x="1061.14" y="1541.18" width="2.21" height="2.21"/>
<rect x="988.96" y="1543.24" width="14.59" height="2.21"/>
<rect x="1005.46" y="1543.24" width="2.21" height="2.21"/>
<rect x="1009.58" y="1543.24" width="4.27" height="2.21"/>
<rect x="1017.83" y="1543.24" width="8.40" height="2.21"/>
<rect x="1028.14" y="1543.24" width="4.27" height="2.21"/>
<rect x="1034.33" y="1543.24" width="4.27" height="2.21"/>
<rect x="1042.58" y="1543.24" width="6.34" height="2.21"/>
<rect x="1050.83" y="1543.24" width="2.21" height="2.21"/>
<rect x="1057.01" y="1543.24" width="4.27" height="2.21"/>
<rect x="988.96" y="1545.31" width="2.21" height="2.21"/>
<rect x="993.09" y="1545.31" width="6.34" height="2.21"/>
<rect x="1007.52" y="1545.31" width="6.34" height="2.21"/>
<rect x="1017.83" y="1545.31" width="8.40" height="2.21"/>
<rect x="1028.14" y="1545.31" width="2.21" height="2.21"/>
<rect x="1040.52" y="1545.31" width="6.34" height="2.21"/>
<rect x="1048.76" y="1545.31" width="4.27" height="2.21"/>
<rect x="1054.95" y="1545.31" width="6.34" height="2.21"/>
<rect x="986.90" y="1547.37" width="2.21" height="2.21"/>
<rect x="995.15" y="1547.37" width="8.40" height="2.21"/>
<rect x="1005.46" y="1547.37" width="6.34" height="2.21"/>
<rect x="1021.96" y="1547.37" width="2.21" height="2.21"/>
<rect x="1026.08" y="1547.37" width="2.21" height="2.21"/>
<rect x="1030.21" y="1547.37" width="2.21" height="2.21"/>
<rect x="1034.33" y="1547.37" width="8.40" height="2.21"/>
<rect x="1046.70" y="1547.37" width="4.27" height="2.21"/>
<rect x="1054.95" y="1547.37" width="2.21" height="2.21"/>
<rect x="986.90" y="1549.43" width="4.27" height="2.21"/>
<rect x="997.21" y="1549.43" width="2.21" height="2.21"/>
<rect x="1001.34" y="1549.43" width="4.27" height="2.21"/>
<rect x="1011.65" y="1549.43" width="2.21" height="2.21"/>
<rect x="1015.77" y="1549.43" width="4.27" height="2.21"/>
<rect x="1024.02" y="1549.43" width="2.21" height="2.21"/>
<rect x="1030.21" y="1549.43" width="10.46" height="2.21"/>
<rect x="1044.64" y="1549.43" width="6.34" height="2.21"/>
<rect x="1052.89" y="1549.43" width="6.34" height="2.21"/>
<rect x="986.90" y="1551.49" width="6.34" height="2.21"/>
<rect x="997.21" y="1551.49" width="4.27" height="2.21"/>
<rect x="1003.40" y="1551.49" width="6.34" height="2.21"/>
<rect x="1011.65" y="1551.49" width="2.21" height="2.21"/>
<rect x="1015.77" y="1551.49" width="4.27" height="2.21"/>
<rect x="1024.02" y="1551.49" width="4.27" height="2.21"/>
<rect x="1030.21" y="1551.49" width="4.27" height="2.21"/>
<rect x="1036.39" y="1551.49" width="2.21" height="2.21"/>
<rect x="1040.52" y="1551.49" width="2.21" height="2.21"/>
<rect x="1044.64" y="1551.49" width="6.34" height="2.21"/>
<rect x="1057.01" y="1551.49" width="2.21" height="2.21"/>
<rect x="1061.14" y="1551.49" width="2.21" height="2.21"/>
<rect x="988.96" y="1553.55" width="4.27" height="2.21"/>
<rect x="997.21" y="1553.55" width="2.21" height="2.21"/>
<rect x="1005.46" y="1553.55" width="4.27" height="2.21"/>
<rect x="1013.71" y="1553.55" width="4.27" height="2.21"/>
<rect x="1019.89" y="1553.55" width="2.21" height="2.21"/>
<rect x="1028.14" y="1553.55" width="2.21" height="2.21"/>
<rect x="1032.27" y="1553.55" width="4.27" height="2.21"/>
<rect x="1040.52" y="1553.55" width="6.34" height="2.21"/>
<rect x="1048.76" y="1553.55" width="6.34" height="2.21"/>
<rect x="1059.08" y="1553.55" width="2.21" height="2.21"/>
<rect x="988.96" y="1555.62" width="2.21" height="2.21"/>
<rect x="993.09" y="1555.62" width="2.21" height="2.21"/>
<rect x="999.27" y="1555.62" width="6.34" height="2.21"/>
<rect x="1007.52" y="1555.62" width="2.21" height="2.21"/>
<rect x="1011.65" y="1555.62" width="6.34" height="2.21"/>
<rect x="1019.89" y="1555.62" width="4.27" height="2.21"/>
<rect x="1028.14" y="1555.62" width="16.65" height="2.21"/>
<rect x="1046.70" y="1555.62" width="2.21" height="2.21"/>
<rect x="1050.83" y="1555.62" width="2.21" height="2.21"/>
<rect x="1059.08" y="1555.62" width="2.21" height="2.21"/>
<rect x="986.90" y="1557.68" width="2.21" height="2.21"/>
<rect x="991.02" y="1557.68" width="2.21" height="2.21"/>
<rect x="1001.34" y="1557.68" width="2.21" height="2.21"/>
<rect x="1005.46" y="1557.68" width="2.21" height="2.21"/>
<rect x="1011.65" y="1557.68" width="2.21" height="2.21"/>
<rect x="1017.83" y="1557.68" width="4.27" height="2.21"/>
<rect x="1024.02" y="1557.68" width="2.21" height="2.21"/>
<rect x="1028.14" y="1557.68" width="2.21" height="2.21"/>
<rect x="1032.27" y="1557.68" width="2.21" height="2.21"/>
<rect x="1038.45" y="1557.68" width="4.27" height="2.21"/>
<rect x="1044.64" y="1557.68" width="8.40" height="2.21"/>
<rect x="1059.08" y="1557.68" width="2.21" height="2.21"/>
<rect x="986.90" y="1559.74" width="2.21" height="2.21"/>
<rect x="993.09" y="1559.74" width="2.21" height="2.21"/>
<rect x="999.27" y="1559.74" width="2.21" height="2.21"/>
<rect x="1003.40" y="1559.74" width="2.21" height="2.21"/>
<rect x="1009.58" y="1559.74" width="2.21" height="2.21"/>
<rect x="1013.71" y="1559.74" width="2.21" height="2.21"/>
<rect x="1019.89" y="1559.74" width="2.21" height="2.21"/>
<rect x="1024.02" y="1559.74" width="4.27" height="2.21"/>
<rect x="1030.21" y="1559.74" width="2.21" height="2.21"/>
<rect x="1034.33" y="1559.74" width="2.21" height="2.21"/>
<rect x="1044.64" y="1559.74" width="12.52" height="2.21"/>
<rect x="1061.14" y="1559.74" width="2.21" height="2.21"/>
<rect x="1007.52" y="1561.80" width="2.21" height="2.21"/>
<rect x="1011.65" y="1561.80" width="4.27" height="2.21"/>
<rect x="1017.83" y="1561.80" width="6.34" height="2.21"/>
<rect x="1030.21" y="1561.80" width="6.34" height="2.21"/>
<rect x="1040.52" y="1561.80" width="2.21" height="2.21"/>
<rect x="1044.64" y="1561.80" width="2.21" height="2.21"/>
<rect x="1052.89" y="1561.80" width="4.27" height="2.21"/>
<rect x="1059.08" y="1561.80" width="4.27" height="2.21"/>
<rect x="986.90" y="1563.86" width="14.59" height="2.21"/>
<rect x="1009.58" y="1563.86" width="8.40" height="2.21"/>
<rect x="1024.02" y="1563.86" width="2.21" height="2.21"/>
<rect x="1030.21" y="1563.86" width="2.21" height="2.21"/>
<rect x="1034.33" y="1563.86" width="12.52" height="2.21"/>
<rect x="1048.76" y="1563.86" width="2.21" height="2.21"/>
<rect x="1052.89" y="1563.86" width="4.27" height="2.21"/>
<rect x="1059.08" y="1563.86" width="2.21" height="2.21"/>
<rect x="986.90" y="1565.93" width="2.21" height="2.21"/>
<rect x="999.27" y="1565.93" width="2.21" height="2.21"/>
<rect x="1003.40" y="1565.93" width="2.21" height="2.21"/>
<rect x="1011.65" y="1565.93" width="2.21" height="2.21"/>
<rect x="1015.77" y="1565.93" width="4.27" height="2.21"/>
<rect x="1030.21" y="1565.93" width="2.21" height="2.21"/>
<rect x="1038.45" y="1565.93" width="2.21" height="2.21"/>
<rect x="1044.64" y="1565.93" width="2.21" height="2.21"/>
<rect x="1052.89" y="1565.93" width="8.40" height="2.21"/>
<rect x="986.90" y="1567.99" width="2.21" height="2.21"/>
<rect x="991.02" y="1567.99" width="6.34" height="2.21"/>
<rect x="999.27" y="1567.99" width="2.21" height="2.21"/>
<rect x="1003.40" y="1567.99" width="2.21" height="2.21"/>
<rect x="1007.52" y="1567.99" width="2.21" height="2.21"/>
<rect x="1015.77" y="1567.99" width="2.21" height="2.21"/>
<rect x="1024.02" y="1567.99" width="8.40" height="2.21"/>
<rect x="1042.58" y="1567.99" width="20.77" height="2.21"/>
<rect x="986.90" y="1570.05" width="2.21" height="2.21"/>
<rect x="991.02" y="1570.05" width="6.34" height="2.21"/>
<rect x="999.27" y="1570.05" width="2.21" height="2.21"/>
<rect x="1003.40" y="1570.05" width="4.27" height="2.21"/>
<rect x="1009.58" y="1570.05" width="2.21" height="2.21"/>
<rect x="1015.77" y="1570.05" width="2.21" height="2.21"/>
<rect x="1019.89" y="1570.05" width="2.21" height="2.21"/>
<rect x="1024.02" y="1570.05" width="6.34" height="2.21"/>
<rect x="1034.33" y="1570.05" width="6.34" height="2.21"/>
<rect x="1042.58" y="1570.05" width="6.34" height="2.21"/>
<rect x="1050.83" y="1570.05" width="2.21" height="2.21"/>
<rect x="1054.95" y="1570.05" width="4.27" height="2.21"/>
<rect x="1061.14" y="1570.05" width="2.21" height="2.21"/>
<rect x="986.90" y="1572.11" width="2.21" height="2.21"/>
<rect x="991.02" y="1572.11" width="6.34" height="2.21"/>
<rect x="999.27" y="1572.11" width="2.21" height="2.21"/>
<rect x="1003.40" y="1572.11" width="4.27" height="2.21"/>
<rect x="1009.58" y="1572.11" width="2.21" height="2.21"/>
<rect x="1013.71" y="1572.11" width="6.34" height="2.21"/>
<rect x="1024.02" y="1572.11" width="2.21" height="2.21"/>
<rect x="1028.14" y="1572.11" width="4.27" height="2.21"/>
<rect x="1040.52" y="1572.11" width="6.34" height="2.21"/>
<rect x="1052.89" y="1572.11" width="4.27" height="2.21"/>
<rect x="1061.14" y="1572.11" width="2.21" height="2.21"/>
<rect x="986.90" y="1574.18" width="2.21" height="2.21"/>
<rect x="999.27" y="1574.18" width="2.21" height="2.21"/>
<rect x="1003.40" y="1574.18" width="6.34" height="2.21"/>
<rect x="1011.65" y="1574.18" width="6.34" height="2.21"/>
<rect x="1021.96" y="1574.18" width="2.21" height="2.21"/>
<rect x="1026.08" y="1574.18" width="4.27" height="2.21"/>
<rect x="1036.39" y="1574.18" width="4.27" height="2.21"/>
<rect x="1042.58" y="1574.18" width="10.46" height="2.21"/>
<rect x="1061.14" y="1574.18" width="2.21" height="2.21"/>
<rect x="986.90" y="1576.24" width="14.59" height="2.21"/>
<rect x="1003.40" y="1576.24" width="4.27" height="2.21"/>
<rect x="1021.96" y="1576.24" width="4.27" height="2.21"/>
<rect x="1028.14" y="1576.24" width="4.27" height="2.21"/>
<rect x="1038.45" y="1576.24" width="6.34" height="2.21"/>
<rect x="1046.70" y="1576.24" width="2.21" height="2.21"/>
<rect x="1052.89" y="1576.24" width="2.21" height="2.21"/>
<rect x="1059.08" y="1576.24" width="4.27" height="2.21"/>
</g>
<circle cx="1024.6" cy="1541" r="10.5" fill="#fff"/>
<circle cx="1024.6" cy="1541" r="9" fill="#e8803a"/>
<text x="1024.6" y="1541.5" font-size="8" font-weight="bold" fill="#f6e6c8" text-anchor="middle" dominant-baseline="central" font-family="Liberation Sans, sans-serif">Edu</text>
</svg></body></html>
